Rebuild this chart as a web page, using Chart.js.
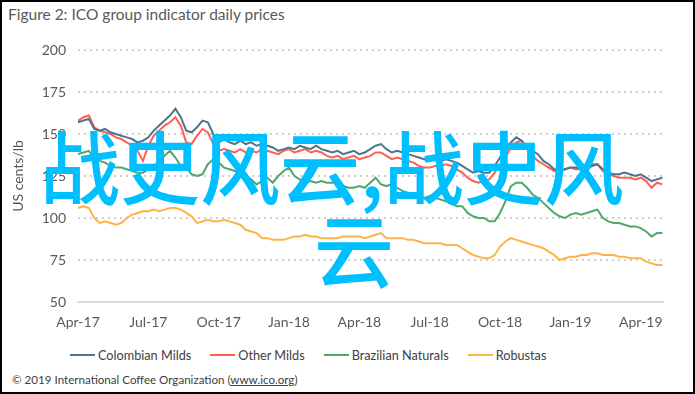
<!DOCTYPE html>
<html>
<head>
<meta charset="UTF-8">
<title>ICO group indicator daily prices</title>
<script src="https://cdn.jsdelivr.net/npm/chart.js@4.4.1/dist/chart.umd.min.js"></script>
<style>
  body{margin:0;background:#fff;font-family:Lato,sans-serif;}
  #page{position:relative;width:695px;height:394px;overflow:hidden;background:#fff;}
  #frame{position:absolute;left:0;top:0;width:695px;height:394px;border:2px solid #000;box-sizing:border-box;z-index:6;pointer-events:none;}
  #chartBox{position:absolute;left:0;top:0;}
  .title{position:absolute;left:8px;top:5px;font-size:15.5px;color:#595959;}
  .legend{position:absolute;left:70px;top:347px;display:flex;font-size:12.7px;color:#404040;}
  .item{display:flex;align-items:center;margin-right:19px;}
  .mark{width:25px;height:2px;margin-right:3px;}
  .footer{position:absolute;left:12px;top:373px;font-size:11.6px;color:#404040;}
  .footer u{text-decoration:underline;}
  .wm{position:absolute;color:#00bfff;font-family:"Noto Sans CJK SC";font-size:80px;font-weight:500;line-height:1;white-space:nowrap;z-index:5;}
</style>
</head>
<body>
<div id="page">
  <div class="title">Figure 2: ICO group indicator daily prices</div>
  <canvas id="chartBox" width="695" height="335"></canvas>
  <div class="legend" id="legend"></div>
  <div class="footer">© 2019 International Coffee Organization (<u>www.ico.org</u>)</div>
  <div class="wm" style="left:40px;top:123px;">战史风云,战史风</div>
  <div class="wm" style="left:314px;top:206px;">云</div>
  <div id="frame"></div>
</div>
<script>
// weekly readings, first week of April 2017 to end of April 2019
const tickLabels = ['Apr-17','Jul-17','Oct-17','Jan-18','Apr-18','Jul-18','Oct-18','Jan-19','Apr-19'];
const seriesNames = ['Colombian Milds','Other Milds','Brazilian Naturals','Robustas'];
const seriesColors = ['#4b7590','#ff5f4f','#4fa86a','#ffb347'];

const colombianMilds = [157,158,159,153,152,153,151,150,149,148,147,145,146,148,152,155,158,161,165,160,
  152,151,154,158,157,150,145,147,145,144,146,144,145,143,144,143,142,140,141,142,
  141,143,142,141,143,141,140,139,140,138,139,140,138,139,141,143,144,141,139,140,
  139,138,137,136,135,134,135,134,135,134,133,131,129,127,128,127,127,131,136,141,
  145,148,146,142,140,138,134,132,129,128,129,130,130,129,129,131,132,129,127,126,
  126,127,126,125,126,124,122,123,124];
const otherMilds = [158,160,161,154,152,151,150,148,147,145,143,140,134,143,149,152,155,157,160,155,
  145,144,149,153,151,144,140,141,140,139,141,139,140,139,141,140,139,138,140,141,
  139,140,141,139,140,139,137,136,137,135,136,137,135,136,137,139,139,137,135,136,
  135,134,133,131,130,130,131,131,132,131,129,127,124,122,121,122,123,127,132,136,
  142,145,146,141,137,134,132,130,128,128,129,130,129,129,130,132,132,128,126,125,
  124,124,124,123,124,122,118,121,120];
const brazilianNaturals = [138,139,140,136,134,133,131,130,130,129,128,127,127,129,131,134,137,140,136,131,
  130,126,125,126,132,135,133,130,129,128,126,125,123,120,122,124,121,125,128,130,
  125,123,121,122,121,122,121,121,121,119,118,118,119,118,121,124,120,119,120,118,
  116,115,114,113,112,113,112,111,110,109,107,107,103,101,100,100,98,98,103,110,
  119,121,121,118,114,112,109,106,103,101,100,102,103,102,103,104,105,100,98,97,
  97,96,95,95,94,92,89,91,91];
const robustas = [106,107,106,100,97,98,97,96,97,100,102,103,104,104,105,104,105,106,106,105,
  103,101,97,98,99,98,98,99,98,97,96,93,92,91,88,88,87,87,87,88,
  89,89,90,89,89,88,88,88,88,89,89,89,89,88,89,90,91,88,88,88,
  88,87,87,86,85,85,85,85,84,84,84,82,80,78,77,76,76,78,83,86,
  88,87,86,85,84,83,82,80,78,75,76,77,77,78,78,79,79,78,78,78,
  77,77,76,76,76,74,73,72,72];

const allSeries = [colombianMilds, otherMilds, brazilianNaturals, robustas];

// x position in months after April 2017
const toPoints = vals => vals.map((v, i) => ({x: i * 12 / 52, y: v}));

const legendBox = document.getElementById('legend');
seriesNames.forEach((name, k) => {
  const it = document.createElement('div');
  it.className = 'item';
  it.innerHTML = '<span class="mark" style="background:' + seriesColors[k] + '"></span>' + name;
  legendBox.appendChild(it);
});

new Chart(document.getElementById('chartBox'), {
  type: 'line',
  data: {
    datasets: allSeries.map((vals, k) => ({
      label: seriesNames[k],
      data: toPoints(vals),
      borderColor: seriesColors[k],
      backgroundColor: seriesColors[k],
      borderWidth: 2,
      pointRadius: 0,
      tension: 0
    }))
  },
  options: {
    responsive: false,
    animation: false,
    layout: {padding: {left: 10, right: 32, top: 50, bottom: 0}},
    plugins: {legend: {display: false}, tooltip: {enabled: false}},
    scales: {
      x: {
        type: 'linear',
        min: 0,
        max: 24.95,
        afterFit: s => { s.height = 33; },
        grid: {display: true, drawOnChartArea: false, drawTicks: false},
        border: {display: true, color: '#d9d9d9', width: 2},
        ticks: {
          stepSize: 3,
          includeBounds: false,
          padding: 12,
          color: '#595959',
          font: {family: 'Lato', size: 14},
          maxRotation: 0,
          callback: v => tickLabels[Math.round(v / 3)]
        }
      },
      y: {
        min: 50,
        max: 200,
        afterFit: s => { s.width = 68; },
        grid: {color: '#cfcfcf', lineWidth: 2, drawTicks: false},
        border: {display: false, dash: [2, 4]},
        ticks: {
          stepSize: 25,
          padding: 12,
          color: '#595959',
          font: {family: 'Lato', size: 14}
        },
        title: {
          display: true,
          text: 'US cents/lb',
          color: '#595959',
          font: {family: 'Lato', size: 14},
          padding: {top: 0, bottom: 0}
        }
      }
    }
  }
});
</script>
</body>
</html>
